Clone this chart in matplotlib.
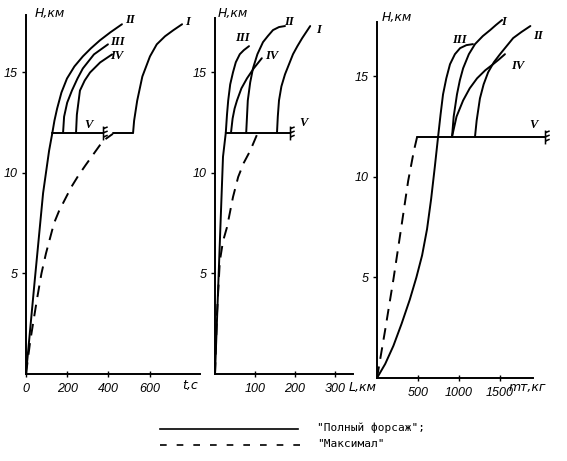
import matplotlib.pyplot as plt
from matplotlib.path import Path

W, H = 567, 461

# ---- panel 1: H vs t (s)
p1_climb_t = [0, 41, 83, 112, 128]
p1_climb_h = [0, 4.5, 9.0, 11.1, 12.0]
p1_II_t = [128, 138, 151, 172, 199, 235, 276, 315, 359, 410, 466]
p1_II_h = [12.0, 12.6, 13.2, 14.0, 14.7, 15.3, 15.8, 16.2, 16.6, 17.0, 17.4]
p1_III_t = [180, 185, 200, 223, 250, 276, 330, 398]
p1_III_h = [12.0, 12.8, 13.5, 14.1, 14.7, 15.2, 15.9, 16.4]
p1_IV_t = [243, 247, 262, 285, 311, 360, 418]
p1_IV_h = [12.0, 12.9, 14.1, 14.6, 15.0, 15.5, 15.9]
p1_V_t = [128, 374]
p1_V2_t = [422, 520]
p1_I_t = [520, 525, 540, 565, 602, 635, 675, 715, 758]
p1_I_h = [12.0, 12.6, 13.6, 14.8, 15.8, 16.4, 16.8, 17.1, 17.4]
p1_dash_t = [0, 20, 53, 75, 97, 136, 160, 190, 220, 253, 290, 325, 374, 422]
p1_dash_h = [0, 1.6, 3.7, 5.0, 6.0, 7.5, 8.1, 8.7, 9.3, 9.85, 10.4, 10.9, 11.6, 11.95]

# ---- panel 2: H vs L (km)
p2_climb_l = [0, 12, 20, 27]
p2_climb_h = [0, 6.5, 10.8, 12.0]
p2_III_l = [27, 30, 33, 38, 45, 52, 62, 72, 85]
p2_III_h = [12.0, 12.9, 13.6, 14.4, 15.0, 15.5, 15.9, 16.1, 16.3]
p2_IV_l = [40, 44, 49, 55, 66, 80, 97, 117]
p2_IV_h = [12.0, 12.7, 13.2, 13.6, 14.2, 14.7, 15.2, 15.7]
p2_II_l = [78, 80, 82, 88, 95, 106, 120, 132, 145, 160, 175]
p2_II_h = [12.0, 12.8, 13.6, 14.5, 15.2, 15.9, 16.5, 16.8, 17.1, 17.25, 17.3]
p2_I_l = [155, 157, 160, 166, 175, 185, 195, 206, 218, 228, 238]
p2_I_h = [12.0, 12.8, 13.6, 14.3, 14.9, 15.4, 15.9, 16.3, 16.7, 17.0, 17.3]
p2_V_l = [27, 188]
p2_dash_l = [0, 5, 12, 20, 30, 45, 58, 72, 88, 105]
p2_dash_h = [0, 3.0, 5.6, 6.6, 7.3, 8.8, 9.8, 10.5, 11.1, 11.9]

# ---- panel 3: H vs fuel mass (kg)
p3_III_m = [0, 100, 200, 300, 400, 480, 550, 610, 660, 705, 745,
            775, 805, 845, 890, 950, 1013, 1090, 1170]
p3_III_h = [0, 0.7, 1.6, 2.7, 3.9, 5.0, 6.1, 7.4, 8.9, 10.5, 12.0,
            13.1, 14.1, 14.9, 15.6, 16.1, 16.4, 16.55, 16.6]
p3_I_m = [915, 935, 975, 1010, 1050, 1120, 1195, 1290, 1380, 1450, 1525]
p3_I_h = [12.0, 13.0, 14.1, 14.8, 15.4, 16.1, 16.6, 17.0, 17.3, 17.55, 17.8]
p3_IV_m = [915, 970, 1050, 1130, 1220, 1320, 1415, 1490, 1560]
p3_IV_h = [12.0, 13.0, 13.8, 14.4, 14.9, 15.3, 15.6, 15.85, 16.1]
p3_II_m = [1195, 1215, 1255, 1300, 1355, 1425, 1500, 1580, 1660, 1760, 1870]
p3_II_h = [12.0, 12.8, 13.9, 14.6, 15.2, 15.7, 16.1, 16.5, 16.9, 17.2, 17.5]
p3_V_m = [490, 2050]
p3_dash_m = [0, 100, 200, 300, 380, 450, 490]
p3_dash_h = [0, 2.4, 4.9, 7.6, 9.8, 11.3, 12.0]

h_ticks = [5, 10, 15]
p1_xticks = [0, 200, 400, 600]
p2_xticks = [100, 200, 300]
p3_xticks = [500, 1000, 1500]

LW = 1.4
DASH = (6, 4)
tickfont = dict(family='Liberation Sans', style='italic', size=9)
romfont = dict(family='Liberation Serif', style='italic', weight='bold', size=9)

stop = Path([(0, -1), (0, 1), (0, 0.7), (0.6, 0.95), (0, 0.1), (0.6, 0.35),
             (0, -0.5), (0.6, -0.25)],
            [Path.MOVETO, Path.LINETO, Path.MOVETO, Path.LINETO, Path.MOVETO,
             Path.LINETO, Path.MOVETO, Path.LINETO])

fig = plt.figure(figsize=(W / 100, H / 100), dpi=100)


def make_ax(x0, top, x1, bottom, xmax, ymax):
    ax = fig.add_axes([x0 / W, 1 - bottom / H, (x1 - x0) / W, (bottom - top) / H])
    ax.set_xlim(0, xmax)
    ax.set_ylim(0, ymax)
    for s in ['top', 'right']:
        ax.spines[s].set_visible(False)
    for s in ['left', 'bottom']:
        ax.spines[s].set_linewidth(1.4)
    ax.set_yticks(h_ticks)
    ax.set_yticklabels([str(v) for v in h_ticks], fontdict=tickfont)
    ax.tick_params(axis='y', direction='out', length=3, width=1, pad=3)
    ax.tick_params(axis='x', direction='inout', length=5, width=1, pad=4)
    ax.patch.set_alpha(0)
    return ax


def line(ax, x, y, dashed=False):
    kw = dict(color='black', lw=LW, clip_on=False, solid_capstyle='round',
              solid_joinstyle='round')
    if dashed:
        kw['dashes'] = DASH
    ax.plot(x, y, **kw)


def stop_mark(ax, x):
    ax.plot([x], [12.0], marker=stop, markersize=10, mew=1.1, color='black',
            clip_on=False, linestyle='none')


# panel 1
ax1 = make_ax(26, 15, 200, 374, 845, 17.86)
ax1.set_xticks(p1_xticks)
ax1.set_xticklabels([str(v) for v in p1_xticks], fontdict=tickfont)
line(ax1, p1_climb_t, p1_climb_h)
line(ax1, p1_II_t, p1_II_h)
line(ax1, p1_III_t, p1_III_h)
line(ax1, p1_IV_t, p1_IV_h)
line(ax1, p1_I_t, p1_I_h)
line(ax1, p1_V_t, [12, 12])
line(ax1, p1_V2_t, [12, 12])
line(ax1, p1_dash_t, p1_dash_h, dashed=True)
stop_mark(ax1, p1_V_t[-1])
ax1.text(505, 17.6, 'II', ha='center', va='center', fontdict=romfont)
ax1.text(442, 16.5, 'III', ha='center', va='center', fontdict=romfont)
ax1.text(442, 15.8, 'IV', ha='center', va='center', fontdict=romfont)
ax1.text(786, 17.5, 'I', ha='center', va='center', fontdict=romfont)
ax1.text(301, 12.4, 'V', ha='center', va='center', fontdict=romfont)

# panel 2
ax2 = make_ax(215, 18, 353, 374, 345, 17.7)
ax2.set_xticks(p2_xticks)
ax2.set_xticklabels([str(v) for v in p2_xticks], fontdict=tickfont)
line(ax2, p2_climb_l, p2_climb_h)
line(ax2, p2_III_l, p2_III_h)
line(ax2, p2_IV_l, p2_IV_h)
line(ax2, p2_II_l, p2_II_h)
line(ax2, p2_I_l, p2_I_h)
line(ax2, p2_V_l, [12, 12])
line(ax2, p2_dash_l, p2_dash_h, dashed=True)
stop_mark(ax2, p2_V_l[-1])
ax2.text(68, 16.7, 'III', ha='center', va='center', fontdict=romfont)
ax2.text(185, 17.5, 'II', ha='center', va='center', fontdict=romfont)
ax2.text(143, 15.8, 'IV', ha='center', va='center', fontdict=romfont)
ax2.text(260, 17.1, 'I', ha='center', va='center', fontdict=romfont)
ax2.text(220, 12.5, 'V', ha='center', va='center', fontdict=romfont)

# panel 3
ax3 = make_ax(377, 22, 533, 378, 1902, 17.7)
ax3.set_xticks(p3_xticks)
ax3.set_xticklabels([str(v) for v in p3_xticks], fontdict=tickfont)
line(ax3, p3_III_m, p3_III_h)
line(ax3, p3_I_m, p3_I_h)
line(ax3, p3_IV_m, p3_IV_h)
line(ax3, p3_II_m, p3_II_h)
line(ax3, p3_V_m, [12, 12])
line(ax3, p3_dash_m, p3_dash_h, dashed=True)
stop_mark(ax3, p3_V_m[-1])
ax3.text(1537, 17.7, 'I', ha='center', va='center', fontdict=romfont)
ax3.text(1000, 16.8, 'III', ha='center', va='center', fontdict=romfont)
ax3.text(1963, 17.0, 'II', ha='center', va='center', fontdict=romfont)
ax3.text(1720, 15.5, 'IV', ha='center', va='center', fontdict=romfont)
ax3.text(1902, 12.6, 'V', ha='center', va='center', fontdict=romfont)

# axis captions
lab = dict(family='DejaVu Sans', style='italic', size=9, va='center')
fig.text(35 / W, 1 - 13 / H, 'H,км', ha='left', **lab)
fig.text(218 / W, 1 - 13 / H, 'H,км', ha='left', **lab)
fig.text(382 / W, 1 - 18 / H, 'H,км', ha='left', **lab)
fig.text(190 / W, 1 - 385 / H, 't,c', ha='center', **lab)
fig.text(349 / W, 1 - 387 / H, 'L,км', ha='left', **lab)
fig.text(509 / W, 1 - 387 / H, 'mт,кг', ha='left', **lab)

# legend
fig.add_artist(plt.Line2D([160 / W, 298 / W], [1 - 429 / H, 1 - 429 / H],
                          color='black', lw=1.2))
fig.add_artist(plt.Line2D([160 / W, 300 / W], [1 - 445 / H, 1 - 445 / H],
                          color='black', lw=1.2, dashes=(4, 6)))
leg = dict(family='DejaVu Sans Mono', size=8, va='center', ha='left')
fig.text(317 / W, 1 - 428 / H, '"Полный форсаж";', **leg)
fig.text(317 / W, 1 - 444 / H, '"Максимал"', **leg)

fig.savefig('out.png', dpi=100)
